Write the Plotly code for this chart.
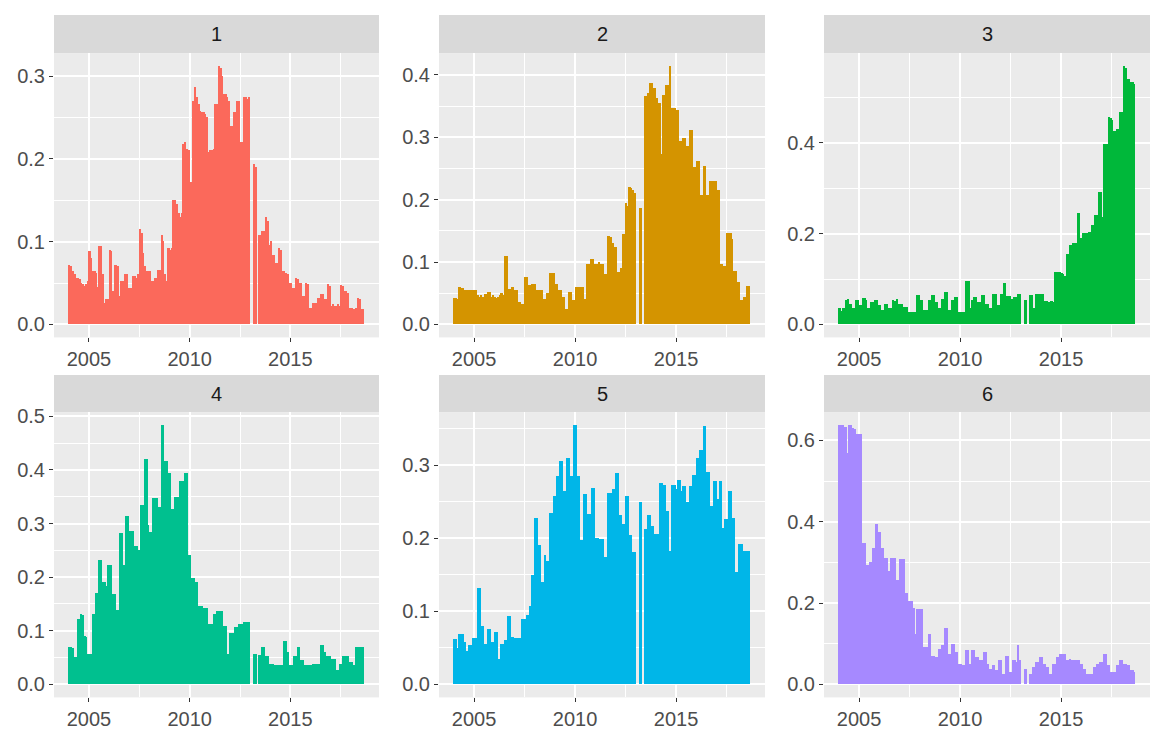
import pandas as pd
import plotly.graph_objects as go

# Monthly series, Jan 2004 .. Aug 2018 (176 months)
months = pd.date_range("2004-01-01", periods=176, freq="MS")
panel_names = ["1", "2", "3", "4", "5", "6"]

p1 = [0.072, 0.070, 0.064, 0.060, 0.056, 0.056, 0.054, 0.050, 0.048, 0.046, 0.048, 0.052,
      0.088, 0.080, 0.064, 0.064, 0.062, 0.045, 0.094, 0.095, 0.060, 0.026, 0.030, 0.030,
      0.090, 0.088, 0.040, 0.072, 0.072, 0.070, 0.034, 0.052, 0.052, 0.060, 0.060, 0.044,
      0.044, 0.044, 0.058, 0.058, 0.056, 0.060, 0.115, 0.110, 0.086, 0.070, 0.064, 0.064,
      0.064, 0.052, 0.052, 0.056, 0.056, 0.066, 0.066, 0.108, 0.100, 0.060, 0.052, 0.092,
      0.090, 0.092, 0.150, 0.150, 0.145, 0.134, 0.130, 0.134, 0.218, 0.220, 0.212, 0.210,
      0.172, 0.172, 0.270, 0.286, 0.275, 0.266, 0.258, 0.256, 0.256, 0.254, 0.250, 0.208,
      0.210, 0.210, 0.212, 0.266, 0.266, 0.312, 0.310, 0.300, 0.278, 0.278, 0.274, 0.270,
      0.240, 0.240, 0.256, 0.256, 0.270, 0.270, 0.220, 0.220, 0.274, 0.274, 0.272, 0.274,
      0, 0, 0.194, 0.190, 0, 0.108, 0.108, 0.112, 0.112, 0.130, 0.125, 0.096,
      0.100, 0.084, 0.084, 0.074, 0.074, 0.092, 0.090, 0.064, 0.064, 0.062, 0.060, 0.050,
      0.050, 0.044, 0.044, 0.056, 0.054, 0.050, 0.050, 0.034, 0.034, 0.050, 0.048, 0.020,
      0.020, 0.026, 0.026, 0.026, 0.032, 0.032, 0.036, 0.036, 0.030, 0.030, 0.048, 0.046,
      0.022, 0.024, 0.022, 0.022, 0.024, 0.022, 0.047, 0.046, 0.040, 0.040, 0.038, 0.020,
      0.020, 0.018, 0.018, 0.020, 0.032, 0.030, 0.018, 0.018]

p2 = [0.042, 0.042, 0.040, 0.060, 0.058, 0.058, 0.054, 0.054, 0.054, 0.054, 0.054, 0.054,
      0.054, 0.054, 0.046, 0.044, 0.046, 0.044, 0.048, 0.048, 0.052, 0.052, 0.044, 0.046,
      0.044, 0.042, 0.044, 0.046, 0.050, 0.046, 0.110, 0.110, 0.057, 0.057, 0.060, 0.060,
      0.054, 0.054, 0.036, 0.036, 0.033, 0.033, 0.075, 0.075, 0.062, 0.062, 0.065, 0.065,
      0.065, 0.054, 0.054, 0.054, 0.054, 0.041, 0.041, 0.050, 0.050, 0.082, 0.082, 0.082,
      0.065, 0.065, 0.054, 0.054, 0.044, 0.044, 0.025, 0.025, 0.052, 0.052, 0.038, 0.038,
      0.060, 0.060, 0.060, 0.060, 0.060, 0.041, 0.041, 0.096, 0.096, 0.104, 0.104, 0.096,
      0.096, 0.096, 0.099, 0.096, 0.096, 0.080, 0.080, 0.142, 0.142, 0.140, 0.130, 0.124,
      0.124, 0.083, 0.083, 0.090, 0.144, 0.144, 0.194, 0.190, 0.220, 0.218, 0.215, 0.210,
      0, 0, 0.187, 0.187, 0, 0.365, 0.365, 0.370, 0.386, 0.386, 0.378, 0.378,
      0.362, 0.354, 0.354, 0.273, 0.367, 0.367, 0.383, 0.383, 0.414, 0.346, 0.346, 0.346,
      0.344, 0.344, 0.294, 0.294, 0.299, 0.299, 0.286, 0.286, 0.312, 0.312, 0.252, 0.252,
      0.261, 0.261, 0.207, 0.207, 0.254, 0.254, 0.207, 0.207, 0.230, 0.230, 0.230, 0.230,
      0.215, 0.215, 0.096, 0.096, 0.094, 0.094, 0.146, 0.146, 0.146, 0.136, 0.086, 0.086,
      0.067, 0.067, 0.038, 0.038, 0.044, 0.044, 0.061, 0.061]

p3 = [0.035, 0.030, 0.035, 0.035, 0.053, 0.056, 0.045, 0.045, 0.035, 0.035, 0.053, 0.053,
      0.042, 0.042, 0.058, 0.058, 0.053, 0.035, 0.035, 0.049, 0.049, 0.053, 0.053, 0.042,
      0.042, 0.031, 0.031, 0.045, 0.045, 0.035, 0.035, 0.035, 0.053, 0.050, 0.055, 0.045,
      0.045, 0.045, 0.038, 0.038, 0.038, 0.027, 0.027, 0.027, 0.027, 0.027, 0.064, 0.064,
      0.053, 0.053, 0.031, 0.031, 0.031, 0.053, 0.053, 0.064, 0.064, 0.049, 0.049, 0.035,
      0.035, 0.056, 0.056, 0.071, 0.071, 0.031, 0.031, 0.053, 0.053, 0.060, 0.060, 0.027,
      0.027, 0.027, 0.027, 0.096, 0.096, 0.096, 0.035, 0.053, 0.060, 0.060, 0.049, 0.049,
      0.049, 0.064, 0.064, 0.045, 0.045, 0.035, 0.035, 0.067, 0.067, 0.067, 0.042, 0.042,
      0.067, 0.067, 0.091, 0.063, 0.063, 0.063, 0.056, 0.056, 0.060, 0.060, 0.067, 0.067,
      0, 0, 0.053, 0.053, 0, 0.064, 0.064, 0.035, 0.035, 0.067, 0.067, 0.067,
      0.067, 0.067, 0.050, 0.050, 0.048, 0.048, 0.050, 0.048, 0.116, 0.116, 0.114, 0.114,
      0.112, 0.110, 0.107, 0.154, 0.155, 0.175, 0.175, 0.179, 0.179, 0.179, 0.244, 0.190,
      0.190, 0.200, 0.200, 0.200, 0.204, 0.204, 0.219, 0.219, 0.240, 0.240, 0.291, 0.291,
      0.237, 0.396, 0.396, 0.396, 0.457, 0.455, 0.450, 0.425, 0.425, 0.430, 0.430, 0.468,
      0.468, 0.569, 0.565, 0.540, 0.540, 0.533, 0.533, 0.529]

p4 = [0.070, 0.070, 0.068, 0.050, 0.050, 0.121, 0.121, 0.130, 0.128, 0.090, 0.088, 0.056,
      0.056, 0.056, 0.130, 0.130, 0.170, 0.170, 0.231, 0.231, 0.191, 0.191, 0.182, 0.222,
      0.222, 0.222, 0.167, 0.167, 0.139, 0.139, 0.282, 0.282, 0.222, 0.222, 0.314, 0.314,
      0.285, 0.285, 0.285, 0.258, 0.258, 0.250, 0.250, 0.333, 0.333, 0.420, 0.420, 0.296,
      0.283, 0.283, 0.346, 0.346, 0.346, 0.330, 0.330, 0.483, 0.483, 0.415, 0.415, 0.394,
      0.394, 0.326, 0.326, 0.348, 0.348, 0.348, 0.379, 0.379, 0.379, 0.394, 0.394, 0.240,
      0.240, 0.198, 0.198, 0.191, 0.191, 0.145, 0.145, 0.145, 0.142, 0.142, 0.142, 0.112,
      0.112, 0.112, 0.130, 0.130, 0.136, 0.136, 0.136, 0.136, 0.109, 0.109, 0.056, 0.056,
      0.096, 0.096, 0.096, 0.106, 0.106, 0.112, 0.112, 0.112, 0.115, 0.115, 0.115, 0.115,
      0, 0, 0.056, 0.056, 0, 0.055, 0.055, 0.069, 0.069, 0.053, 0.053, 0.038,
      0.038, 0.038, 0.035, 0.035, 0.035, 0.035, 0.035, 0.035, 0.081, 0.081, 0.060, 0.035,
      0.035, 0.035, 0.053, 0.053, 0.069, 0.069, 0.045, 0.045, 0.035, 0.035, 0.035, 0.035,
      0.035, 0.038, 0.038, 0.038, 0.038, 0.038, 0.072, 0.072, 0.060, 0.052, 0.052, 0.052,
      0.047, 0.047, 0.047, 0.026, 0.026, 0.038, 0.038, 0.052, 0.052, 0.053, 0.053, 0.041,
      0.041, 0.035, 0.035, 0.069, 0.069, 0.069, 0.069, 0.069]

p5 = [0.062, 0.062, 0.050, 0.069, 0.069, 0.069, 0.057, 0.046, 0.046, 0.054, 0.054, 0.063,
      0.063, 0.063, 0.132, 0.132, 0.080, 0.080, 0.055, 0.055, 0.076, 0.076, 0.057, 0.057,
      0.072, 0.072, 0.035, 0.035, 0.055, 0.055, 0.060, 0.060, 0.093, 0.093, 0.064, 0.064,
      0.063, 0.063, 0.063, 0.063, 0.089, 0.089, 0.089, 0.095, 0.095, 0.107, 0.150, 0.150,
      0.228, 0.228, 0.190, 0.190, 0.140, 0.140, 0.177, 0.168, 0.168, 0.235, 0.235, 0.258,
      0.258, 0.285, 0.285, 0.305, 0.305, 0.264, 0.264, 0.310, 0.310, 0.285, 0.285, 0.355,
      0.355, 0.285, 0.285, 0.197, 0.197, 0.260, 0.260, 0.233, 0.233, 0.233, 0.269, 0.269,
      0.200, 0.200, 0.199, 0.199, 0.199, 0.174, 0.174, 0.262, 0.262, 0.262, 0.267, 0.267,
      0.289, 0.289, 0.231, 0.231, 0.219, 0.219, 0.258, 0.258, 0.204, 0.204, 0.181, 0.181,
      0, 0, 0.250, 0.250, 0, 0.213, 0.213, 0.231, 0.231, 0.217, 0.217, 0.206,
      0.206, 0.206, 0.276, 0.276, 0.273, 0.273, 0.237, 0.237, 0.183, 0.273, 0.273, 0.273,
      0.267, 0.279, 0.279, 0.264, 0.272, 0.272, 0.249, 0.249, 0.272, 0.272, 0.287, 0.287,
      0.310, 0.310, 0.321, 0.321, 0.353, 0.353, 0.291, 0.291, 0.244, 0.244, 0.278, 0.278,
      0.253, 0.253, 0.278, 0.214, 0.214, 0.226, 0.226, 0.264, 0.264, 0.228, 0.228, 0.154,
      0.154, 0.192, 0.192, 0.192, 0.182, 0.182, 0.182, 0.182]

p6 = [0.637, 0.637, 0.637, 0.633, 0.633, 0.568, 0.637, 0.637, 0.630, 0.628, 0.615, 0.615,
      0.615, 0.615, 0.346, 0.346, 0.293, 0.293, 0.301, 0.301, 0.334, 0.334, 0.394, 0.374,
      0.374, 0.334, 0.334, 0.309, 0.309, 0.277, 0.277, 0.309, 0.309, 0.309, 0.257, 0.257,
      0.308, 0.308, 0.308, 0.224, 0.224, 0.204, 0.204, 0.204, 0.188, 0.123, 0.184, 0.184,
      0.184, 0.184, 0.091, 0.091, 0.091, 0.123, 0.123, 0.070, 0.070, 0.066, 0.066, 0.087,
      0.087, 0.095, 0.095, 0.138, 0.138, 0.074, 0.074, 0.099, 0.099, 0.079, 0.079, 0.050,
      0.050, 0.046, 0.046, 0.084, 0.084, 0.050, 0.050, 0.084, 0.084, 0.066, 0.066, 0.058,
      0.058, 0.058, 0.079, 0.079, 0.050, 0.038, 0.038, 0.046, 0.046, 0.034, 0.034, 0.058,
      0.058, 0.026, 0.026, 0.070, 0.070, 0.030, 0.030, 0.058, 0.058, 0.055, 0.095, 0.060,
      0, 0, 0.038, 0.038, 0, 0.026, 0.026, 0.042, 0.042, 0.054, 0.054, 0.066,
      0.066, 0.050, 0.050, 0.042, 0.042, 0.026, 0.026, 0.050, 0.050, 0.066, 0.066, 0.073,
      0.073, 0.074, 0.074, 0.058, 0.058, 0.062, 0.060, 0.058, 0.058, 0.060, 0.058, 0.050,
      0.050, 0.038, 0.038, 0.026, 0.026, 0.026, 0.026, 0.042, 0.042, 0.050, 0.050, 0.054,
      0.054, 0.074, 0.074, 0.046, 0.046, 0.030, 0.030, 0.030, 0.030, 0.046, 0.046, 0.060,
      0.060, 0.050, 0.050, 0.046, 0.046, 0.034, 0.034, 0.030]

series = [p1, p2, p3, p4, p5, p6]
colors = ["#FB695B", "#D49400", "#00B83A", "#00C08F", "#00B6E8", "#A689FF"]
y_dticks = [0.1, 0.1, 0.2, 0.1, 0.1, 0.2]
x_ticks = [2005, 2010, 2015]
x_minor = [2002.5, 2007.5, 2012.5, 2017.5]

# decimal-year centre of each monthly bar
xdec = list(months.year + (months.month - 1) / 12 + 1 / 24)

W, H = 1151, 730
col_px = [(54, 379), (439, 765), (824, 1150)]
row_px = [(47, 335), (411, 700)]
strip_px = [(8, 47), (373, 411)]

fig = go.Figure()
xmin = xdec[0] - 1 / 24
xmax = xdec[-1] + 1 / 24
xpad = 0.05 * (xmax - xmin)

font_family = "Liberation Sans, Arial, sans-serif"
FS = 20
shapes = []
annotations = []
for k in range(6):
    r, c = divmod(k, 3)
    n = "" if k == 0 else str(k + 1)
    fig.add_trace(go.Bar(x=xdec, y=series[k], width=1 / 12 * 1.04,
                         marker=dict(color=colors[k], line=dict(width=0)),
                         xaxis="x" + n, yaxis="y" + n, showlegend=False,
                         hoverinfo="x+y"))
    x0, x1 = col_px[c]
    y0, y1 = row_px[r]
    ymax = max(series[k])
    dt = y_dticks[k]
    fig.update_layout(**{
        "xaxis" + n: dict(
            domain=[x0 / W, x1 / W], anchor="y" + n,
            range=[xmin - xpad, xmax + xpad],
            tickmode="array", tickvals=x_ticks,
            showgrid=True, gridcolor="white", gridwidth=2,
            minor=dict(tickmode="array", tickvals=x_minor, showgrid=True,
                       gridcolor="white", gridwidth=1, ticks=""),
            zeroline=False, showline=False,
            ticks="outside", ticklen=4, tickwidth=1, tickcolor="#333333",
            tickfont=dict(size=FS, color="#4D4D4D", family=font_family),
        ),
        "yaxis" + n: dict(
            domain=[1 - y1 / H, 1 - y0 / H], anchor="x" + n,
            range=[-0.05 * ymax, 1.05 * ymax],
            tick0=0, dtick=dt, tickformat=".1f",
            showgrid=True, gridcolor="white", gridwidth=2,
            minor=dict(tick0=dt / 2, dtick=dt, showgrid=True,
                       gridcolor="white", gridwidth=1, ticks=""),
            zeroline=False, showline=False,
            ticks="outside", ticklen=4, tickwidth=1, tickcolor="#333333",
            tickfont=dict(size=FS, color="#4D4D4D", family=font_family),
        ),
    })
    s0, s1 = strip_px[r]
    shapes.append(dict(type="rect", xref="paper", yref="paper",
                       x0=x0 / W, x1=x1 / W, y0=1 - s1 / H, y1=1 - s0 / H,
                       fillcolor="#D9D9D9", line=dict(width=0), layer="below"))
    annotations.append(dict(text=panel_names[k], xref="paper", yref="paper",
                            x=(x0 + x1) / 2 / W, y=1 - (s0 + s1) / 2 / H,
                            showarrow=False, xanchor="center", yanchor="middle",
                            font=dict(size=FS, color="#1A1A1A", family=font_family)))

fig.update_layout(
    width=W, height=H,
    margin=dict(l=0, r=0, t=0, b=0),
    paper_bgcolor="white", plot_bgcolor="#EBEBEB",
    bargap=0, shapes=shapes, annotations=annotations,
)

fig.write_html("out.html")
